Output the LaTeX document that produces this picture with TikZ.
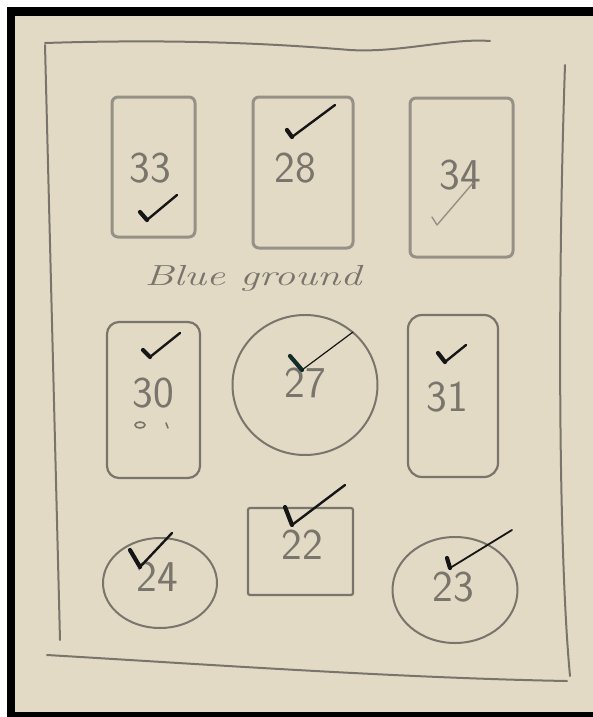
\documentclass[tikz,border=0pt]{standalone}
\usepackage{tikz}
\usetikzlibrary{shapes,positioning}

\definecolor{paper}{RGB}{226,218,197}
\definecolor{pencil}{RGB}{122,117,108}
\definecolor{softpencil}{RGB}{150,145,134}
\definecolor{ink}{RGB}{22,22,22}

\begin{document}
\begin{tikzpicture}[x=1pt, y=-1pt,
    plot/.style={rectangle, draw=pencil, line width=2.2pt, rounded corners=6pt, inner sep=0pt},
    softplot/.style={plot, draw=softpencil, line width=3pt},
    bed/.style={ellipse, draw=pencil, line width=2pt, inner sep=0pt},
    num/.style={text=pencil, inner sep=0pt, font=\sffamily\fontsize{44}{44}\selectfont},
    tick/.style={draw=ink, line width=2.4pt, line cap=round, line join=round},
    heel/.style={tick, line width=4.2pt},
    border/.style={draw=pencil, line width=2pt, line cap=round}
]

% paper in its black mount
\useasboundingbox (0,0) rectangle (593,717);
\fill[white] (0,0) rectangle (593,717);
\fill[black] (7,7) rectangle (593,717);
\fill[paper] (15,16) rectangle (593,712);

% outer boundary of the ground
\draw[border] (45,43) .. controls (200,38) and (300,46) .. (350,50) .. controls (400,53) and (450,38) .. (490,41);
\draw[border] (45,45) -- (60,640);
\draw[border] (47,655) .. controls (200,664) and (400,678) .. (567,681);
\draw[border] (565,65) .. controls (557,300) and (559,560) .. (570,676);

% top row
\node[softplot, minimum width=83pt, minimum height=140pt] (p33) at (153.5,167) {};
\node[softplot, minimum width=100pt, minimum height=151pt] (p28) at (303,172.5) {};
\node[softplot, minimum width=103pt, minimum height=159pt] (p34) at (461.5,177.5) {};
\node[num] (t33) at (150,168) {33};
\node[num] (t28) at (295,168) {28};
\node[num] (t34) at (460,175) {34};

\node[text=pencil, font=\itshape\fontsize{29}{29}\selectfont, xscale=1.45] (blue) at (253,278) {Blue ground};

% middle row
\node[plot, rounded corners=12pt, minimum width=93pt, minimum height=156pt] (p30) at (153.5,400) {};
\node[bed, minimum width=145pt, minimum height=140pt] (p27) at (305,385) {};
\node[plot, rounded corners=14pt, minimum width=90pt, minimum height=162pt] (p31) at (453,396) {};
\node[num] (t30) at (153,393) {30};
\node[num] (t27) at (305,383) {27};
\node[num] (t31) at (447,397) {31};
\draw[pencil, line width=1.6pt] (140,425) ellipse (5pt and 3pt);
\draw[pencil, line width=1.6pt, line cap=round] (166,423) -- (168,428);

% bottom row
\node[bed, minimum width=114pt, minimum height=90pt] (p24) at (160,583) {};
\node[plot, rounded corners=2pt, minimum width=105pt, minimum height=87pt] (p22) at (300.5,551.5) {};
\node[bed, minimum width=125pt, minimum height=106pt] (p23) at (455,590) {};
\node[num] (t24) at (157,577) {24};
\node[num] (t22) at (302,545) {22};
\node[num] (t23) at (453,587) {23};

% ticks: heavy heel, then the long stroke
\draw[heel] ([shift={(-13.5,45)}]p33.center) -- ++(7,8);
\draw[tick] ([shift={(-6.5,53)}]p33.center) -- ++(30,-25);
\draw[heel] ([shift={(-16,-42.5)}]p28.center) -- ++(5,7);
\draw[tick] ([shift={(-11,-35.5)}]p28.center) -- ++(43,-32);
\draw[tick, draw=softpencil, line width=1.4pt] ([shift={(-29.5,39.5)}]p34.center) -- ++(5,8) -- ++(36,-42);
\draw[heel] ([shift={(-10.5,-50)}]p30.center) -- ++(7,7);
\draw[tick] ([shift={(-3.5,-43)}]p30.center) -- ++(30,-24);
\draw[heel, draw=ink!80!teal] ([shift={(-15,-29)}]p27.center) -- ++(12,14);
\draw[tick, line width=1.2pt] ([shift={(-3,-15)}]p27.center) -- ++(51,-38);
\draw[heel] ([shift={(-15,-43)}]p31.center) -- ++(7,9);
\draw[tick] ([shift={(-8,-34)}]p31.center) -- ++(21,-17);
\draw[heel] ([shift={(-30,-33)}]p24.center) -- ++(10,17);
\draw[tick] ([shift={(-20,-16)}]p24.center) -- ++(32,-34);
\draw[heel] ([shift={(-15.5,-44.5)}]p22.center) -- ++(7,18);
\draw[tick] ([shift={(-8.5,-26.5)}]p22.center) -- ++(53,-40);
\draw[heel] ([shift={(-8,-32)}]p23.center) -- ++(3,10);
\draw[tick, line width=1.8pt] ([shift={(-5,-22)}]p23.center) -- ++(62,-38);

\end{tikzpicture}
\end{document}
